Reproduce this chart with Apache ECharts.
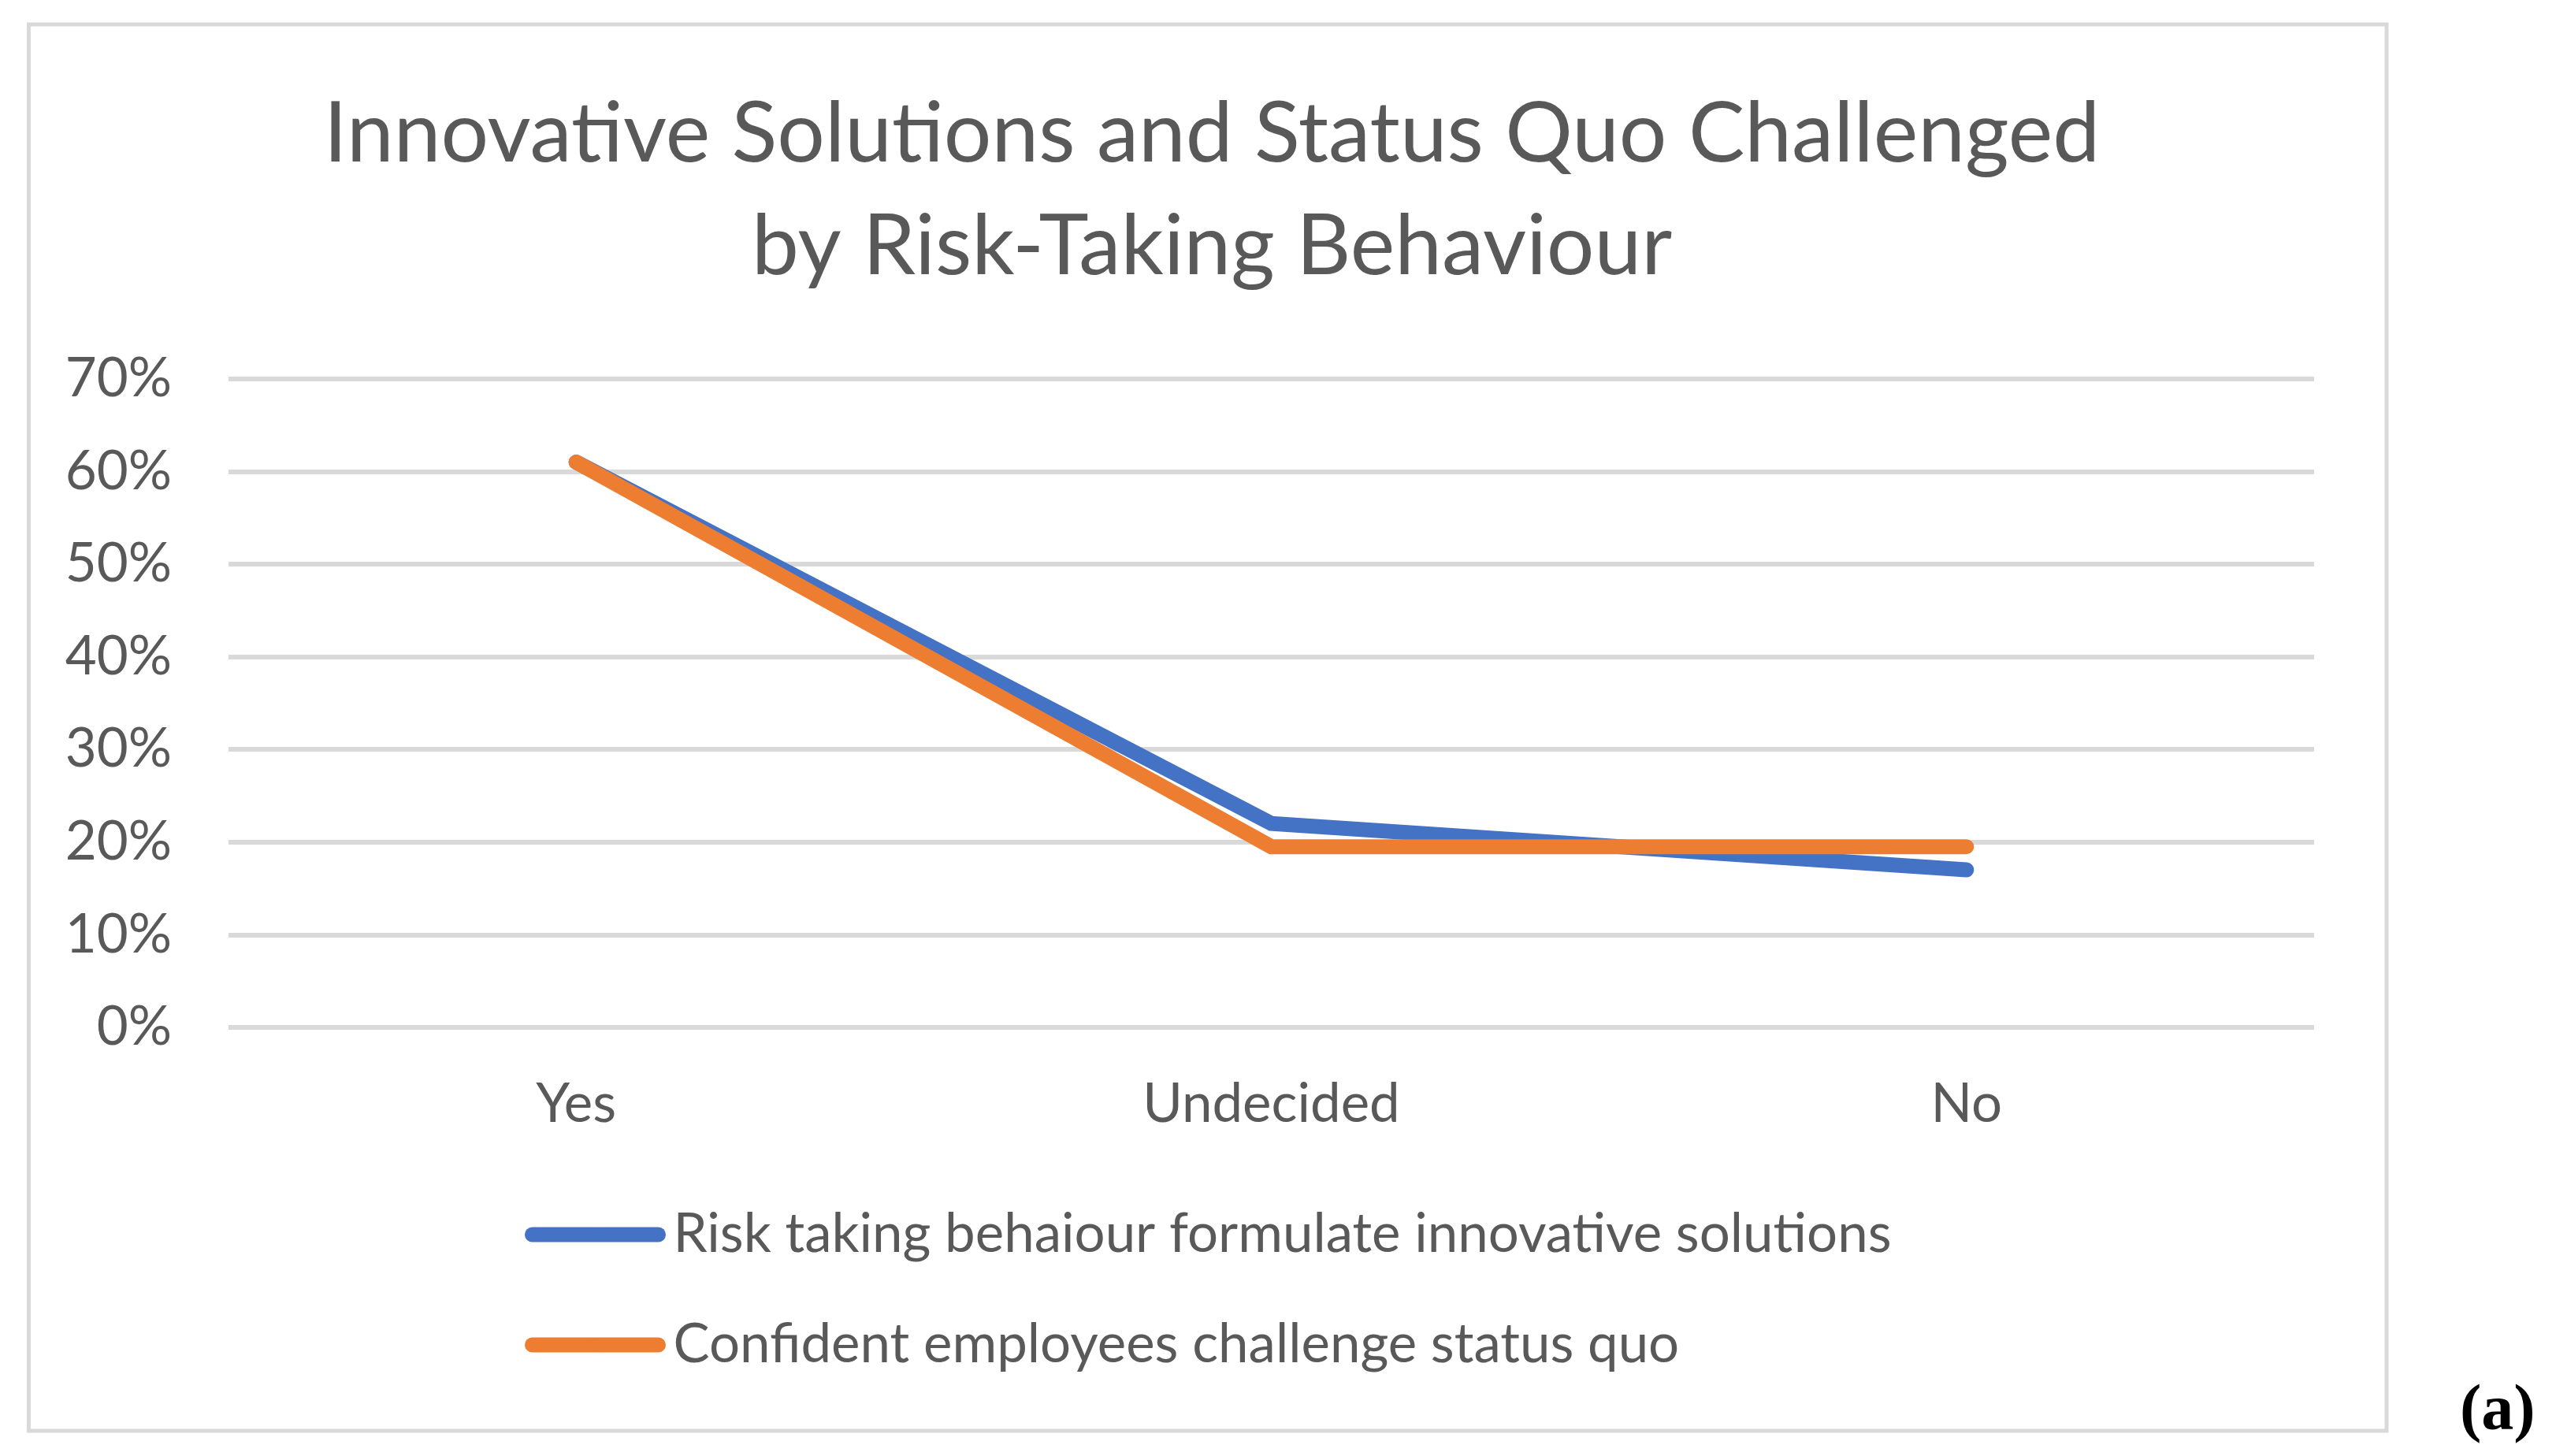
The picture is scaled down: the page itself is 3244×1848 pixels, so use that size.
<!DOCTYPE html>
<html>
<head>
<meta charset="utf-8">
<script src="https://cdn.jsdelivr.net/npm/echarts@6/dist/echarts.min.js"></script>
<style>
html,body{margin:0;padding:0;background:#fff;}
#chart{width:3244px;height:1848px;}
</style>
</head>
<body>
<div id="chart"></div>
<script>
const titleText = 'Innovative Solutions and Status Quo Challenged\nby Risk-Taking Behaviour';
const categories = ['Yes', 'Undecided', 'No'];
const seriesNames = ['Risk taking behaiour formulate innovative solutions', 'Confident employees challenge status quo'];
const riskTaking = [61, 22, 17];
const confident = [61, 19.5, 19.5];
const yTicks = [0, 10, 20, 30, 40, 50, 60, 70];
const panelLabel = '(a)';

const FONT = 'Lato';
const TXT = '#595959';
const chart = echarts.init(document.getElementById('chart'));
chart.setOption({
  backgroundColor: '#ffffff',
  animation: false,
  title: {
    text: titleText,
    left: 1533, textAlign: 'center',
    top: 94,
    textStyle: { fontFamily: FONT, fontSize: 107, fontWeight: 'normal', color: TXT, lineHeight: 143 }
  },
  grid: { left: 290, right: 307, top: 480.7, bottom: 544, containLabel: false },
  xAxis: {
    type: 'category',
    data: categories,
    boundaryGap: true,
    axisLine: { show: false },
    axisTick: { show: false },
    axisLabel: { fontFamily: FONT, fontSize: 69, color: TXT, margin: 63 }
  },
  yAxis: {
    type: 'value',
    min: yTicks[0], max: yTicks[yTicks.length - 1], interval: 10,
    axisLine: { show: false },
    axisTick: { show: false },
    splitLine: { lineStyle: { color: '#d9d9d9', width: 6 } },
    axisLabel: { fontFamily: FONT, fontSize: 69, color: TXT, margin: 72, formatter: '{value}%' }
  },
  legend: {
    orient: 'vertical',
    left: 661, top: 1527,
    itemWidth: 160, itemHeight: 19, itemGap: 70,
    lineStyle: { width: 19, cap: 'round' },
    textStyle: { fontFamily: FONT, fontSize: 69, color: TXT, lineHeight: 70, padding: [0, 0, 0, 14] },
    data: seriesNames
  },
  series: [
    {
      name: seriesNames[0], type: 'line', data: riskTaking,
      symbol: 'none', color: '#4472C4',
      lineStyle: { width: 19, color: '#4472C4', cap: 'round', join: 'miter' }
    },
    {
      name: seriesNames[1], type: 'line', data: confident,
      symbol: 'none', color: '#ED7D31',
      lineStyle: { width: 19, color: '#ED7D31', cap: 'round', join: 'miter' }
    }
  ],
  graphic: [
    {
      type: 'rect', silent: true,
      shape: { x: 36.5, y: 31, width: 2992.5, height: 1785 },
      style: { fill: null, stroke: '#d9d9d9', lineWidth: 5 }
    },
    {
      type: 'text', left: 3122, top: 1752,
      style: { text: panelLabel, font: 'bold 82px "Liberation Serif"', fill: '#000000' }
    }
  ]
});
</script>
</body>
</html>
